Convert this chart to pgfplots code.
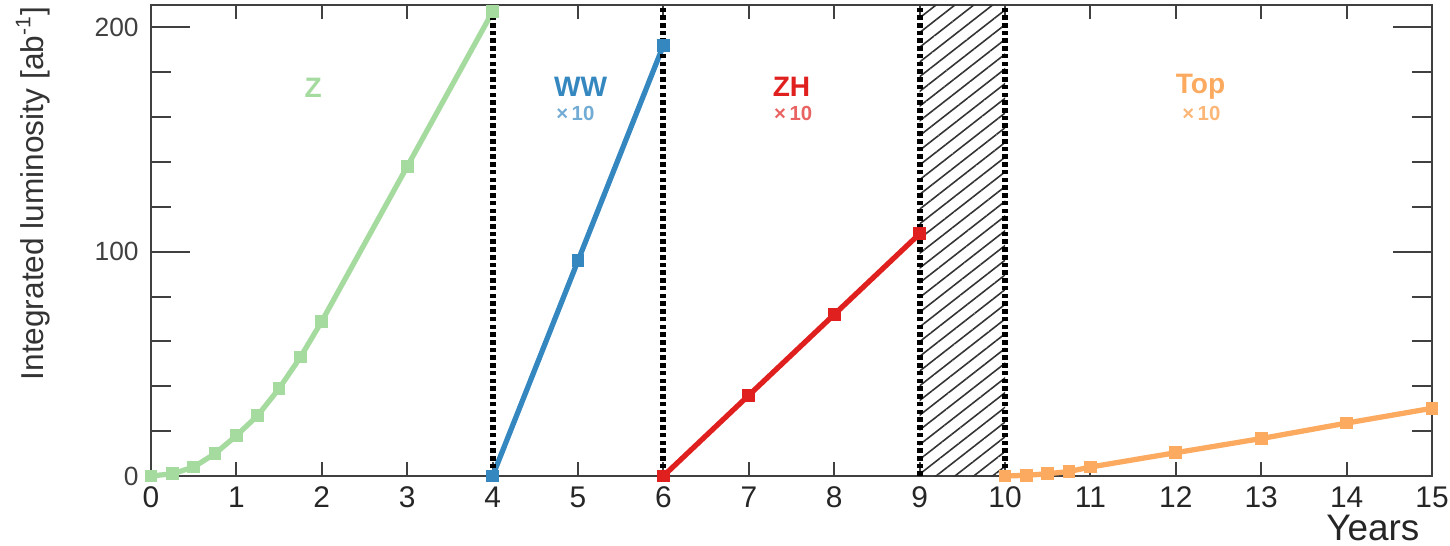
\documentclass[border=0pt]{standalone}
\usepackage{fontspec}
\setmainfont{Liberation Sans}
\usepackage{pgfplots}
\pgfplotsset{compat=1.18}
\usetikzlibrary{patterns.meta}
\definecolor{zgreen}{HTML}{A6DBA0}
\definecolor{wwblue}{HTML}{3587C0}
\definecolor{zhred}{HTML}{E0201F}
\definecolor{toporange}{HTML}{FBAA60}
\definecolor{frame}{HTML}{404040}

\begin{document}
\begin{tikzpicture}
\useasboundingbox (-1.51,-0.69) rectangle (12.99,4.76);
\begin{axis}[
  at={(0,0)}, anchor=south west,
  scale only axis, width=12.81cm, height=4.71cm,
  xmin=0, xmax=15, ymin=0, ymax=210,
  xtick={0,1,...,15}, ytick={0,100,200},
  minor ytick={20,40,60,80,120,140,160,180},
  tick pos=both, ticklabel pos=left, tick align=inside,
  axis line style={frame, line width=0.6pt},
  xtick style={frame, line width=0.6pt, /pgfplots/major tick length=0.14cm},
  ytick style={frame, line width=0.6pt, /pgfplots/major tick length=0.39cm, /pgfplots/minor tick length=0.2cm},
  /pgf/number format/assume math mode=true,
  xticklabel style={font=\fontsize{8.5}{9}\selectfont, text=black!85, yshift=0.5pt},
  yticklabel style={font=\fontsize{7.5}{8}\selectfont, text=black!75},
  ylabel={Integrated luminosity [ab\textsuperscript{-1}]},
  ylabel style={at={(rel axis cs:-0.092,0.6)}, anchor=center, font=\fontsize{9}{10}\selectfont, text=black!80},
  xlabel={Years},
  xlabel style={at={(rel axis cs:1,0)}, anchor=base east, inner sep=0pt, xshift=-0.12cm, yshift=-0.64cm, font=\fontsize{10.5}{11}\selectfont, text=black!85},
  clip=false,
  every axis plot/.append style={line width=1.5pt, mark=square*, mark size=1.05pt, mark options={solid}},
]
  % shutdown year
  \fill[pattern={Lines[angle=38, distance=3.3pt, line width=0.45pt]}, pattern color=black!80]
    (axis cs:9,0) rectangle (axis cs:10,210);

  \addplot[zgreen] coordinates {(0,0)(0.25,1)(0.5,4)(0.75,10)(1,18)(1.25,27)(1.5,39)(1.75,53)(2,69)(3,138)(4,207)};
  \addplot[wwblue] coordinates {(4,0)(5,96)(6,192)};
  \addplot[zhred] coordinates {(6,0)(7,36)(8,72)(9,108)};
  \addplot[toporange] coordinates {(10,0)(10.25,0.3)(10.5,1)(10.75,2)(11,4)(12,10.4)(13,16.7)(14,23.6)(15,30.2)};

  \foreach \xx in {4,6,9,10} {
    \edef\tmp{\noexpand\draw[black, line width=1.7pt, dash pattern=on 1.3pt off 0.9pt] (axis cs:\xx,0) -- (axis cs:\xx,210);}
    \tmp
  }

  \node[zgreen, font=\bfseries\fontsize{8}{9}\selectfont] at (axis cs:1.9,173) {Z};
  \node[wwblue, font=\bfseries\fontsize{8}{9}\selectfont] at (axis cs:5.03,173.4) {WW};
  \node[wwblue!70, font=\bfseries\fontsize{5.8}{6}\selectfont] at (axis cs:4.97,161.8) {×\,10};
  \node[zhred, font=\bfseries\fontsize{8}{9}\selectfont] at (axis cs:7.5,173.4) {ZH};
  \node[zhred!70, font=\bfseries\fontsize{5.8}{6}\selectfont] at (axis cs:7.52,161.8) {×\,10};
  \node[toporange, font=\bfseries\fontsize{8}{9}\selectfont] at (axis cs:12.29,173.4) {Top};
  \node[toporange!85, font=\bfseries\fontsize{5.8}{6}\selectfont] at (axis cs:12.3,161.8) {×\,10};
\end{axis}
\end{tikzpicture}
\end{document}
